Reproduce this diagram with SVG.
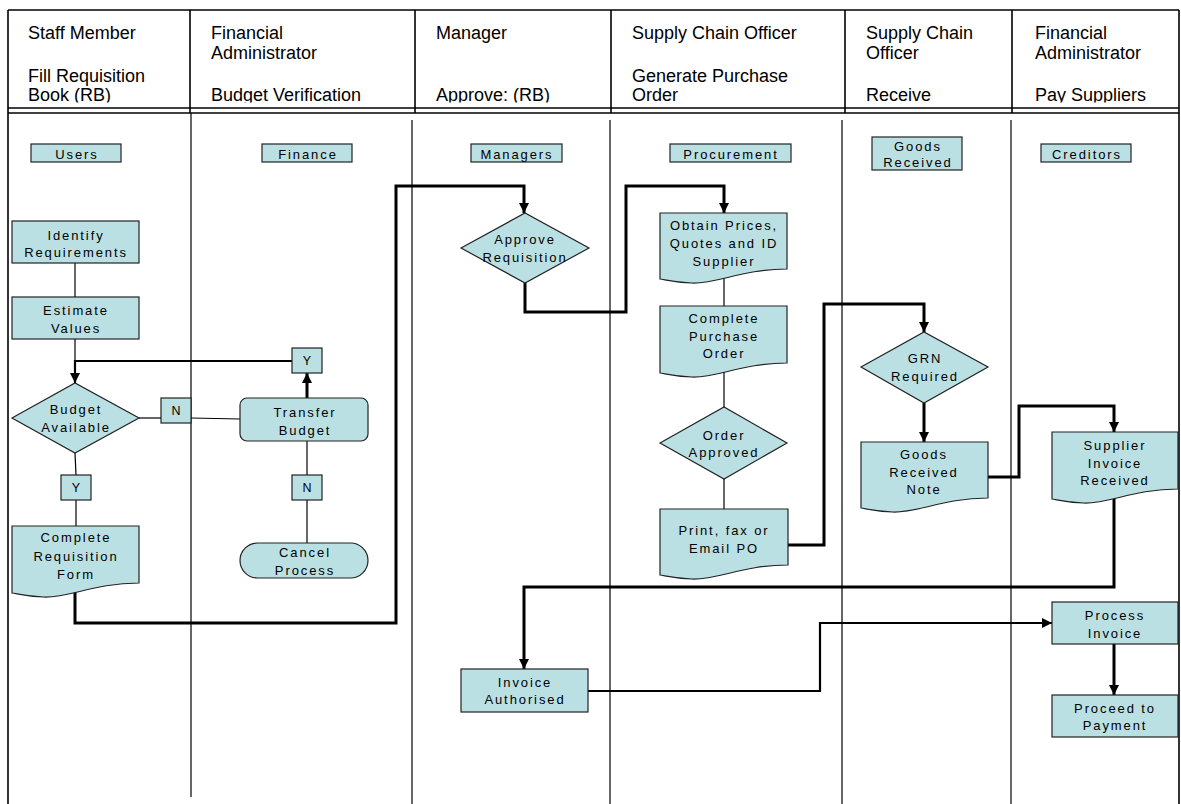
<svg xmlns="http://www.w3.org/2000/svg" width="1181" height="804" viewBox="0 0 1181 804">
<style>
.hd{font-family:"Liberation Sans",Arial,sans-serif;font-size:18px;fill:#000}
.frame{stroke:#000;stroke-width:1.6;fill:none}
.lane{stroke:#000;stroke-width:1.2;fill:none}
.n{fill:#BBE0E3;stroke:#222;stroke-width:1.2}
.t{font-family:"Liberation Sans",Arial,sans-serif;font-size:13px;letter-spacing:1.9px;fill:#000;text-anchor:middle}
.yn{font-family:"Liberation Sans",Arial,sans-serif;font-size:12.5px;fill:#000;text-anchor:middle}
.thin{stroke:#000;stroke-width:1.2;fill:none}
.med{stroke:#000;stroke-width:2.2;fill:none}
.thk{stroke:#000;stroke-width:3;fill:none}
</style>
<defs>
<marker id="ah" viewBox="0 0 10 10" refX="10" refY="5" markerWidth="10" markerHeight="10" markerUnits="userSpaceOnUse" orient="auto"><path d="M0,0 L10,5 L0,10 z" fill="#000"/></marker>
<clipPath id="hclip"><rect x="8" y="10" width="1171" height="92.5"/></clipPath>
</defs>
<rect width="1181" height="804" fill="#fff"/>

<g id="frame">
<line class="frame" x1="8" y1="10" x2="1179" y2="10"/>
<line class="frame" x1="8" y1="108" x2="1179" y2="108"/>
<line class="frame" x1="8" y1="113" x2="1179" y2="113"/>
<line class="frame" x1="8" y1="10" x2="8" y2="804"/>
<line class="frame" x1="1179" y1="10" x2="1179" y2="804"/>
<line class="frame" x1="190" y1="10" x2="190" y2="113"/>
<line class="frame" x1="415" y1="10" x2="415" y2="113"/>
<line class="frame" x1="611" y1="10" x2="611" y2="113"/>
<line class="frame" x1="845" y1="10" x2="845" y2="113"/>
<line class="frame" x1="1012" y1="10" x2="1012" y2="113"/>
<line class="lane" x1="191" y1="113" x2="191" y2="797"/>
<line class="lane" x1="412" y1="120" x2="412" y2="804"/>
<line class="lane" x1="610" y1="120" x2="610" y2="804"/>
<line class="lane" x1="842" y1="120" x2="842" y2="804"/>
<line class="lane" x1="1011" y1="120" x2="1011" y2="804"/>
</g>

<g id="headers" clip-path="url(#hclip)">
<text class="hd" x="28" y="39">Staff Member</text>
<text class="hd" x="28" y="82">Fill Requisition</text>
<text class="hd" x="28" y="101">Book (RB)</text>
<text class="hd" x="211" y="39">Financial</text>
<text class="hd" x="211" y="59">Administrator</text>
<text class="hd" x="211" y="101">Budget Verification</text>
<text class="hd" x="436" y="39">Manager</text>
<text class="hd" x="436" y="101">Approve: (RB)</text>
<text class="hd" x="632" y="39">Supply Chain Officer</text>
<text class="hd" x="632" y="82">Generate Purchase</text>
<text class="hd" x="632" y="101">Order</text>
<text class="hd" x="866" y="39">Supply Chain</text>
<text class="hd" x="866" y="59">Officer</text>
<text class="hd" x="866" y="101">Receive</text>
<text class="hd" x="1035" y="39">Financial</text>
<text class="hd" x="1035" y="59">Administrator</text>
<text class="hd" x="1035" y="101">Pay Suppliers</text>
</g>

<g id="lane-labels">
<g id="lbl-users"><rect class="n" x="31" y="144" width="90" height="18"/><text class="t" x="77" y="159">Users</text></g>
<g id="lbl-finance"><rect class="n" x="262" y="144" width="90" height="18"/><text class="t" x="308" y="159">Finance</text></g>
<g id="lbl-managers"><rect class="n" x="471" y="144" width="91" height="18"/><text class="t" x="517" y="159">Managers</text></g>
<g id="lbl-procurement"><rect class="n" x="670" y="144" width="121" height="18"/><text class="t" x="731" y="159">Procurement</text></g>
<g id="lbl-goods"><rect class="n" x="872" y="137" width="90" height="33"/><text class="t" x="918" y="151">Goods</text><text class="t" x="918" y="167">Received</text></g>
<g id="lbl-creditors"><rect class="n" x="1041" y="144" width="90" height="18"/><text class="t" x="1087" y="159">Creditors</text></g>
</g>

<g id="connectors">
<line class="thin" x1="75" y1="263" x2="75" y2="297"/>
<line class="thin" x1="75" y1="339" x2="75" y2="361"/>
<path class="med" d="M292,361 H75 V383" marker-end="url(#ah)"/>
<path class="thk" d="M307,398 V373" marker-end="url(#ah)"/>
<line class="thin" x1="139" y1="418" x2="161" y2="418"/>
<line class="thin" x1="191" y1="418" x2="240" y2="419"/>
<line class="thin" x1="75" y1="453" x2="76" y2="475"/>
<line class="thin" x1="76" y1="500" x2="76" y2="526"/>
<line class="thin" x1="307" y1="441" x2="307" y2="475"/>
<line class="thin" x1="307" y1="500" x2="307" y2="543"/>
<path class="thk" d="M75,588 V623 H396 V186 H524 V213" marker-end="url(#ah)"/>
<path class="thk" d="M525,283 V312 H626 V186 H724 V213" marker-end="url(#ah)"/>
<line class="thin" x1="724" y1="276" x2="724" y2="306"/>
<line class="thin" x1="724" y1="370" x2="724" y2="407"/>
<line class="thin" x1="724" y1="479" x2="724" y2="509"/>
<path class="thk" d="M788,545 H824 V304 H924 V332" marker-end="url(#ah)"/>
<path class="thk" d="M924,403 V442" marker-end="url(#ah)"/>
<path class="thk" d="M988,477 H1019 V406 H1114 V432" marker-end="url(#ah)"/>
<path class="thk" d="M1114,495 V587 H524 V669" marker-end="url(#ah)"/>
<path class="med" d="M588,691 H820 V623 H1052" marker-end="url(#ah)"/>
<path class="thk" d="M1114,644 V695" marker-end="url(#ah)"/>
</g>

<g id="identify"><rect class="n" x="12" y="221" width="127" height="42"/><text class="t" x="76" y="240">Identify</text><text class="t" x="76" y="257">Requirements</text></g>
<g id="estimate"><rect class="n" x="12" y="297" width="127" height="42"/><text class="t" x="76" y="315">Estimate</text><text class="t" x="76" y="333">Values</text></g>
<g id="budget-available"><path class="n" d="M12,418 L75,383 L139,418 L75,453 Z"/><text class="t" x="76" y="414">Budget</text><text class="t" x="76" y="432">Available</text></g>
<g id="n1"><rect class="n" x="161" y="398" width="30" height="25"/><text class="yn" x="176" y="415">N</text></g>
<g id="y1"><rect class="n" x="292" y="348" width="30" height="25"/><text class="yn" x="307" y="365">Y</text></g>
<g id="transfer-budget"><rect class="n" x="240" y="398" width="128" height="43" rx="7"/><text class="t" x="305" y="417">Transfer</text><text class="t" x="305" y="435">Budget</text></g>
<g id="y2"><rect class="n" x="61" y="475" width="30" height="25"/><text class="yn" x="76" y="492">Y</text></g>
<g id="n2"><rect class="n" x="292" y="475" width="30" height="25"/><text class="yn" x="307" y="492">N</text></g>
<g id="complete-requisition"><path class="n" d="M12,526 H139 V583 C94.6,583 69.2,598 43.8,597 C27.2,596.5 18.4,594 12,593 Z"/><text class="t" x="76" y="542">Complete</text><text class="t" x="76" y="561">Requisition</text><text class="t" x="76" y="579">Form</text></g>
<g id="cancel-process"><rect class="n" x="240" y="543" width="128" height="35" rx="17.5"/><text class="t" x="305" y="557">Cancel</text><text class="t" x="305" y="575">Process</text></g>

<g id="approve-requisition"><path class="n" d="M461,248 L525,213 L589,248 L525,283 Z"/><text class="t" x="525" y="244">Approve</text><text class="t" x="525" y="262">Requisition</text></g>

<g id="obtain-prices"><path class="n" d="M660,213 H787 V269 C742.6,269 717.2,284 691.8,283 C675.2,282.5 666.4,280 660,279 Z"/><text class="t" x="724" y="230">Obtain Prices,</text><text class="t" x="724" y="248">Quotes and ID</text><text class="t" x="724" y="266">Supplier</text></g>
<g id="complete-po"><path class="n" d="M660,306 H787 V363 C742.6,363 717.2,378 691.8,377 C675.2,376.5 666.4,374 660,373 Z"/><text class="t" x="724" y="323">Complete</text><text class="t" x="724" y="341">Purchase</text><text class="t" x="724" y="358">Order</text></g>
<g id="order-approved"><path class="n" d="M660,443 L724,407 L787,443 L724,479 Z"/><text class="t" x="724" y="440">Order</text><text class="t" x="724" y="457">Approved</text></g>
<g id="print-po"><path class="n" d="M660,509 H788 V565 C743.2,565 717.6,580 692,579 C675.4,578.5 666.4,576 660,575 Z"/><text class="t" x="724" y="535">Print, fax or</text><text class="t" x="724" y="553">Email PO</text></g>

<g id="grn-required"><path class="n" d="M861,367 L924,332 L988,367 L924,403 Z"/><text class="t" x="925" y="363">GRN</text><text class="t" x="925" y="381">Required</text></g>
<g id="goods-received-note"><path class="n" d="M861,442 H988 V498 C943.6,498 918.2,513 892.8,512 C876.2,511.5 867.4,509 861,508 Z"/><text class="t" x="924" y="459">Goods</text><text class="t" x="924" y="477">Received</text><text class="t" x="924" y="494">Note</text></g>

<g id="supplier-invoice"><path class="n" d="M1052,432 H1178 V489 C1133.9,489 1108.7,504 1083.5,503 C1067.1,502.5 1058.3,500 1052,499 Z"/><text class="t" x="1115" y="450">Supplier</text><text class="t" x="1115" y="468">Invoice</text><text class="t" x="1115" y="485">Received</text></g>
<g id="process-invoice"><rect class="n" x="1052" y="602" width="126" height="42"/><text class="t" x="1115" y="620">Process</text><text class="t" x="1115" y="638">Invoice</text></g>
<g id="proceed-payment"><rect class="n" x="1052" y="695" width="126" height="42"/><text class="t" x="1115" y="713">Proceed to</text><text class="t" x="1115" y="730">Payment</text></g>

<g id="invoice-authorised"><rect class="n" x="461" y="669" width="127" height="43"/><text class="t" x="525" y="687">Invoice</text><text class="t" x="525" y="704">Authorised</text></g>
</svg>
